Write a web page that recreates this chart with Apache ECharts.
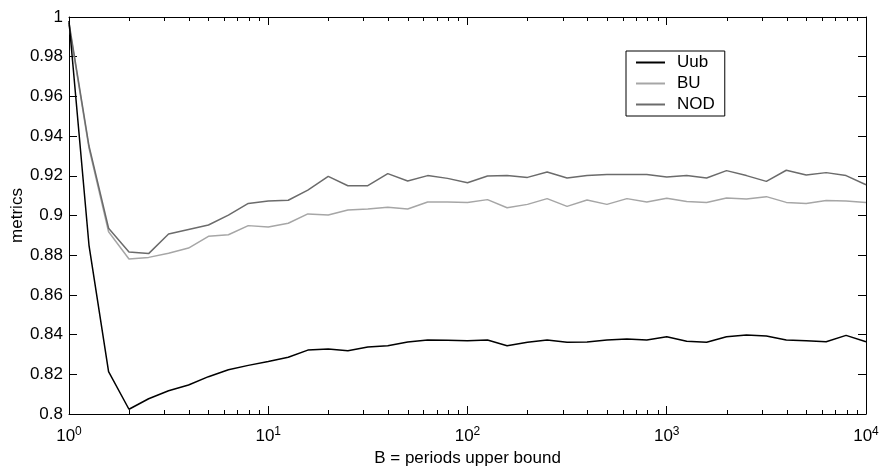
<!DOCTYPE html>
<html>
<head>
<meta charset="utf-8">
<title>metrics vs B</title>
<script src="https://cdn.jsdelivr.net/npm/echarts@6/dist/echarts.min.js"></script>
<style>
  html, body { margin: 0; padding: 0; background: #fff; }
  #chart { width: 880px; height: 468px; }
</style>
</head>
<body>
<div id="chart"></div>
<script>
// B values (log spaced, 10 per decade)
const periods = [1, 1.26, 1.58, 2, 2.51, 3.16, 3.98, 5.01, 6.31, 7.94,
  10, 12.6, 15.8, 20, 25.1, 31.6, 39.8, 50.1, 63.1, 79.4,
  100, 126, 158, 200, 251, 316, 398, 501, 631, 794,
  1000, 1259, 1585, 1995, 2512, 3162, 3981, 5012, 6310, 7943, 10000]

const uub = [0.998, 0.885, 0.8213, 0.8024, 0.8077, 0.8117, 0.8146, 0.8188, 0.8223, 0.8245,
  0.8265, 0.8286, 0.8322, 0.8327, 0.8319, 0.8338, 0.8344, 0.8363, 0.8373, 0.8371,
  0.8369, 0.8373, 0.8344, 0.8361, 0.8373, 0.8361, 0.8363, 0.8373, 0.8378, 0.8373,
  0.8389, 0.8366, 0.8361, 0.8389, 0.8398, 0.8393, 0.8373, 0.8369, 0.8364, 0.8396, 0.8364]

const bu = [0.996, 0.934, 0.8918, 0.8781, 0.8789, 0.8810, 0.8836, 0.8895, 0.8903, 0.8949,
  0.8942, 0.8961, 0.9008, 0.9003, 0.9028, 0.9033, 0.9041, 0.9033, 0.9068, 0.9068,
  0.9065, 0.9080, 0.9039, 0.9056, 0.9085, 0.9046, 0.9078, 0.9056, 0.9085, 0.9068,
  0.9087, 0.9070, 0.9065, 0.9088, 0.9083, 0.9095, 0.9066, 0.9061, 0.9075, 0.9073, 0.9066]

const nod = [0.997, 0.935, 0.8936, 0.8816, 0.8808, 0.8907, 0.8930, 0.8952, 0.9002, 0.9061,
  0.9073, 0.9077, 0.9128, 0.9197, 0.9150, 0.9150, 0.9211, 0.9174, 0.9201, 0.9187,
  0.9165, 0.9199, 0.9201, 0.9192, 0.9219, 0.9189, 0.9202, 0.9207, 0.9206, 0.9206,
  0.9194, 0.9202, 0.9189, 0.9226, 0.9201, 0.9172, 0.9228, 0.9204, 0.9216, 0.9201, 0.9155]

const seriesNames = ['Uub', 'BU', 'NOD']
const yMin = 0.8
const yMax = 1
const yStep = 0.02

// minor ticks of the log axis: 2..9 x 10^n
const minorTicks = []
for (let e = 0; e < 4; e++) {
  for (let m = 2; m <= 9; m++) minorTicks.push(m * Math.pow(10, e))
}

const font = 'Liberation Sans, Arial, Helvetica, sans-serif'
const fs = 17

function pairs(xs, ys) {
  return xs.map((x, i) => [x, ys[i]])
}

const chart = echarts.init(document.getElementById('chart'))
chart.setOption({
  backgroundColor: '#fff',
  animation: false,
  textStyle: { fontFamily: font },
  grid: {
    left: 69,
    right: 14,
    top: 17,
    bottom: 54,
    outerBoundsMode: 'none'
  },
  legend: {
    data: seriesNames,
    orient: 'vertical',
    left: 626,
    top: 51,
    width: 99,
    backgroundColor: '#fff',
    borderColor: '#000',
    borderWidth: 1,
    borderRadius: 0,
    padding: [3, 10, 3, 10],
    icon: 'rect',
    itemWidth: 29,
    itemHeight: 2,
    itemGap: 4,
    textStyle: { fontFamily: font, fontSize: fs, color: '#000', padding: [0, 0, 0, 7] }
  },
  xAxis: [
    {
      type: 'log',
      logBase: 10,
      min: 1,
      max: 10000,
      name: 'B = periods upper bound',
      nameLocation: 'middle',
      nameGap: 36,
      nameMoveOverlap: false,
      nameTextStyle: { fontFamily: font, fontSize: fs, color: '#000' },
      axisLine: { lineStyle: { color: '#000', width: 1 } },
      axisTick: { inside: true, length: 8, lineStyle: { color: '#000' } },
      splitLine: { show: false },
      axisLabel: {
        margin: 12,
        color: '#000',
        formatter: function (v) {
          return '{b|10}{s|' + Math.round(Math.log10(v)) + '}'
        },
        rich: {
          b: { fontFamily: font, fontSize: fs, color: '#000' },
          s: { fontFamily: font, fontSize: 12, color: '#000', verticalAlign: 'top', padding: [0, 0, 8, 0] }
        }
      }
    },
    {
      type: 'log',
      logBase: 10,
      min: 1,
      max: 10000,
      position: 'top',
      axisLine: { lineStyle: { color: '#000', width: 1 } },
      axisTick: { inside: true, length: 8, lineStyle: { color: '#000' } },
      axisLabel: { show: false },
      splitLine: { show: false }
    }
  ],
  yAxis: [
    {
      type: 'value',
      min: yMin,
      max: yMax,
      interval: yStep,
      name: 'metrics',
      nameLocation: 'middle',
      nameGap: 43,
      nameMoveOverlap: false,
      nameTextStyle: { fontFamily: font, fontSize: fs, color: '#000' },
      axisLine: { show: true, lineStyle: { color: '#000', width: 1 } },
      axisTick: { show: true, inside: true, length: 8, lineStyle: { color: '#000' } },
      splitLine: { show: false },
      axisLabel: { margin: 6, color: '#000', fontFamily: font, fontSize: fs }
    },
    {
      type: 'value',
      min: yMin,
      max: yMax,
      interval: yStep,
      position: 'right',
      axisLine: { show: true, lineStyle: { color: '#000', width: 1 } },
      axisTick: { show: true, inside: true, length: 8, lineStyle: { color: '#000' } },
      splitLine: { show: false },
      axisLabel: { show: false }
    }
  ],
  series: [
    {
      name: 'Uub',
      type: 'line',
      symbol: 'none',
      data: pairs(periods, uub),
      lineStyle: { color: '#000', width: 1.5 },
      itemStyle: { color: '#000' },
      z: 4
    },
    {
      name: 'BU',
      type: 'line',
      symbol: 'none',
      data: pairs(periods, bu),
      lineStyle: { color: '#a6a6a6', width: 1.5 },
      itemStyle: { color: '#a6a6a6' },
      z: 3
    },
    {
      name: 'NOD',
      type: 'line',
      symbol: 'none',
      data: pairs(periods, nod),
      lineStyle: { color: '#6b6b6b', width: 1.5 },
      itemStyle: { color: '#6b6b6b' },
      z: 3
    },
    {
      // log minor ticks on bottom and top edges
      type: 'custom',
      silent: true,
      clip: false,
      data: minorTicks.map(v => [v, yMin]),
      encode: { x: 0, y: 1 },
      renderItem: function (params, api) {
        const b = api.coord([api.value(0), yMin])
        const t = api.coord([api.value(0), yMax])
        const x = Math.round(b[0]) + 0.5
        return {
          type: 'group',
          children: [
            { type: 'line', shape: { x1: x, y1: b[1], x2: x, y2: b[1] - 4 }, style: { stroke: '#000', lineWidth: 1 } },
            { type: 'line', shape: { x1: x, y1: t[1], x2: x, y2: t[1] + 4 }, style: { stroke: '#000', lineWidth: 1 } }
          ]
        }
      }
    }
  ]
})
</script>
</body>
</html>
